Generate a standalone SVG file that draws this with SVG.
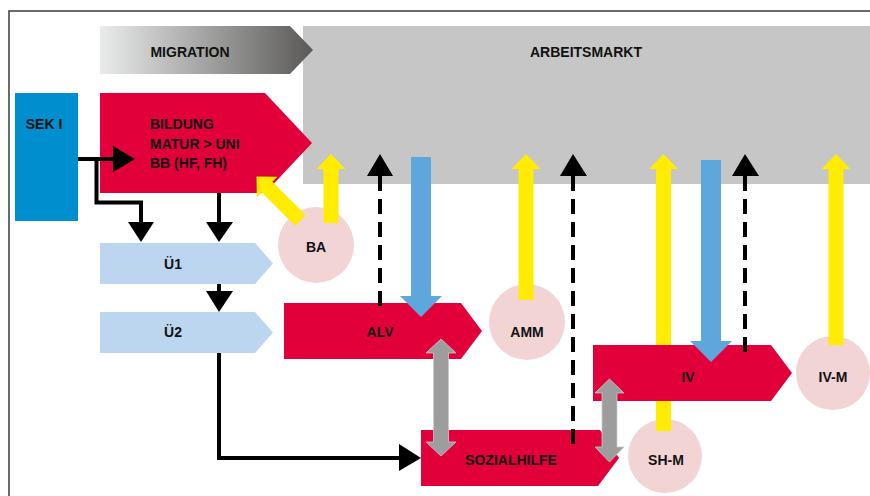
<svg xmlns="http://www.w3.org/2000/svg" width="870" height="496" viewBox="0 0 870 496">
<defs>
<linearGradient id="migGrad" x1="100" y1="0" x2="313" y2="0" gradientUnits="userSpaceOnUse">
<stop offset="0" stop-color="#eaebeb"/>
<stop offset="1" stop-color="#5a5958"/>
</linearGradient>
<style>
text{font-family:"Liberation Sans",Arial,sans-serif;font-weight:bold;font-size:14px;fill:#111;}
.c{text-anchor:middle;}
.red{fill:#e2003a;}
.lb{fill:#bdd6ef;}
.pink{fill:#f2d4d5;}
.yel{fill:#ffec00;}
.blu{fill:#5ea7dc;}
.gry{fill:#9d9d9d;stroke:#c9c9c9;stroke-width:0.8;}
.line{fill:none;stroke:#000;stroke-width:4;}
.dash{fill:none;stroke:#000;stroke-width:4;stroke-dasharray:15 8;}
.head{fill:#000;}
</style>
</defs>
<rect width="870" height="496" fill="#fff"/>
<path d="M9,496 V11 H870" fill="none" stroke="#3a3a3a" stroke-width="1.5"/>

<g id="arbeitsmarkt">
<rect x="303" y="26" width="567" height="158" fill="#c5c6c5"/>
<text class="c" x="586" y="57">ARBEITSMARKT</text>
</g>
<g id="migration">
<polygon points="100,26 290,26 313,50 290,74 100,74" fill="url(#migGrad)"/>
<text class="c" x="190" y="57">MIGRATION</text>
</g>
<g id="sek1">
<rect x="15" y="93" width="63" height="128" fill="#008ecf"/>
<text class="c" x="44" y="129">SEK I</text>
</g>
<g id="bildung">
<polygon class="red" points="100,93 265,93 312,143 265,193 100,193"/>
<text x="150" y="129">BILDUNG</text>
<text x="150" y="149">MATUR &gt; UNI</text>
<text x="150" y="168">BB (HF, FH)</text>
</g>
<g id="ue1">
<polygon class="lb" points="100,243 255,243 273,263.5 255,284 100,284"/>
<text class="c" x="173" y="269">Ü1</text>
</g>
<g id="ue2">
<polygon class="lb" points="100,312 255,312 273,332.5 255,353 100,353"/>
<text class="c" x="173" y="337">Ü2</text>
</g>
<g id="ba">
<circle class="pink" cx="316" cy="245" r="38"/>
<text class="c" x="316" y="252">BA</text>
</g>
<g id="amm">
<circle class="pink" cx="527" cy="322" r="38"/>
<text class="c" x="527" y="337">AMM</text>
</g>
<g id="shm">
<circle class="pink" cx="665" cy="456" r="37"/>
<text class="c" x="666" y="465">SH-M</text>
</g>
<g id="ivm">
<circle class="pink" cx="833" cy="373" r="37"/>
<text class="c" x="833" y="382">IV-M</text>
</g>
<g id="alv">
<polygon class="red" points="284,303 461,303 482,331 461,359 284,359"/>
<text class="c" x="380" y="337">ALV</text>
</g>
<g id="sozialhilfe">
<polygon class="red" points="421,430 600,430 619,458 598,486 421,486"/>
<text class="c" x="511" y="465">SOZIALHILFE</text>
</g>
<g id="shm-arrow">
<polygon class="yel" points="663.5,154 678,169 671,169 671,431 656,431 656,169 649,169"/>
</g>
<g id="iv">
<polygon class="red" points="593,345 771,345 792,373 771,401 593,401"/>
<text class="c" x="688" y="382">IV</text>
</g>

<g id="connectors">
<!-- black flow lines -->
<path class="line" d="M78,159 H115"/>
<polygon class="head" points="113,146 135,159 113,172"/>
<path class="line" d="M96.5,159 V202.5 H141 V223"/>
<polygon class="head" points="128,222 154,222 141,242"/>
<path class="line" d="M219,193 V223"/>
<polygon class="head" points="206,222 233,222 219,242"/>
<path class="line" d="M219,284 V292"/>
<polygon class="head" points="206,291 233,291 219,312"/>
<path class="line" d="M219,353 V458 H401"/>
<polygon class="head" points="399,444 421,458 399,471"/>

<!-- yellow arrows -->
<polygon class="yel" points="331,154 345.5,169 338.5,169 338.5,223 323.5,223 323.5,169 316.5,169"/>
<polygon class="yel" transform="translate(256.5,176.5) rotate(-45)" points="0,0 14.5,15 7.5,15 7.5,62 -7.5,62 -7.5,15 -14.5,15"/>
<polygon class="yel" points="526,154 540.5,169 533.5,169 533.5,300 518.5,300 518.5,169 511.5,169"/>
<polygon class="yel" points="836,154 850.5,169 843.5,169 843.5,345 828.5,345 828.5,169 821.5,169"/>

<!-- blue arrows -->
<polygon class="blu" points="411,157 431,157 431,296 442,296 421,317 400,296 411,296"/>
<polygon class="blu" points="701,160 721,160 721,341 732,341 711,362 690,341 701,341"/>

<!-- dashed arrows -->
<path class="dash" d="M380,176 V310"/>
<polygon class="head" points="367,176 393,176 380,154"/>
<path class="dash" d="M573,176 V450"/>
<polygon class="head" points="560,176 587,176 573,154"/>
<path class="dash" d="M745,176 V357"/>
<polygon class="head" points="732,176 759,176 745,154"/>

<!-- gray double arrows -->
<polygon class="gry" points="441,339 456,353 448.5,353 448.5,442 456,442 441,456 426,442 433.5,442 433.5,353 426,353"/>
<polygon class="gry" points="609.5,379 624,393 617,393 617,447 624,447 609.5,462 595,447 602,447 602,393 595,393"/>
</g>
</svg>
